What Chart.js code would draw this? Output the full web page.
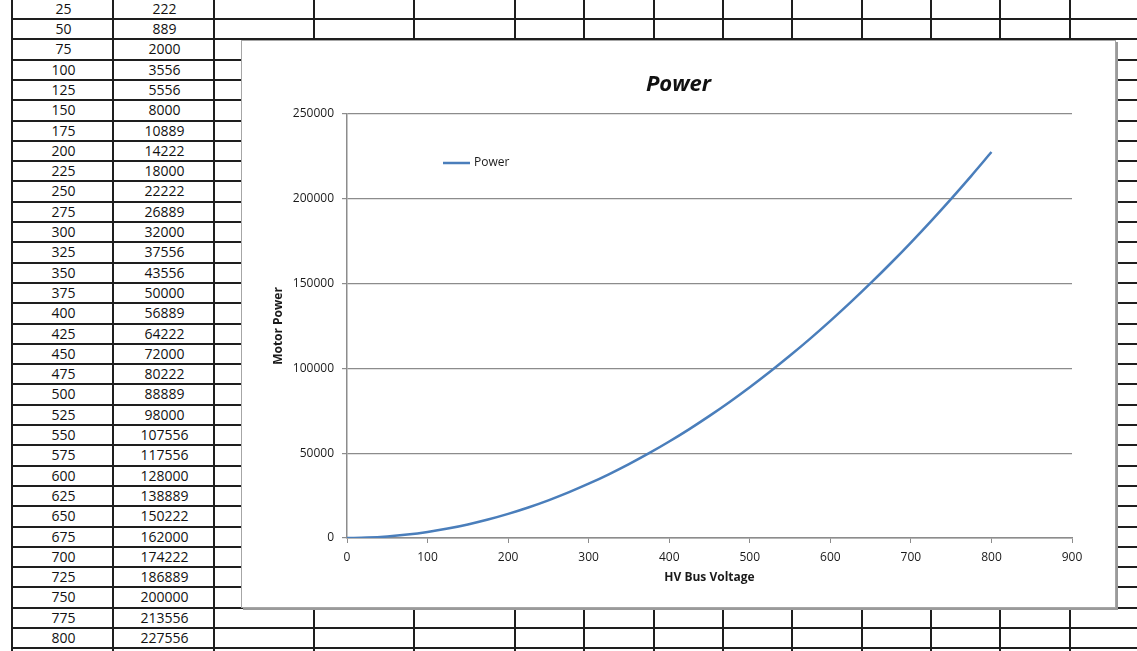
<!DOCTYPE html>
<html>
<head>
<meta charset="utf-8">
<title>Power</title>
<script src="https://cdn.jsdelivr.net/npm/chart.js@4.4.0/dist/chart.umd.min.js"></script>
<style>
  html, body { margin: 0; padding: 0; background: #fff; overflow: hidden; width: 1137px; height: 651px; }
  #sheet { position: absolute; left: 0; top: 0; width: 1137px; height: 651px; }
  .cell {
    position: absolute; box-sizing: border-box;
    border-top: 2px solid #1e1e1e; border-left: 2px solid #1e1e1e;
    font: 14px "Open Sans", sans-serif; color: #111; text-align: center; line-height: 18px;
  }
  #box {
    position: absolute; left: 241px; top: 40px; width: 873px; height: 566px;
    background: #fff; border: 1px solid #a6a6a6; box-shadow: 2px 2px 0 #9a9a9a;
  }
  #box canvas { display: block; }
</style>
</head>
<body>
<div id="sheet"></div>
<div id="box"><canvas id="powerChart" width="873" height="566"></canvas></div>

<script>
// HV bus voltage (column A) and motor power (column B)
const voltages = [0, 25, 50, 75, 100, 125, 150, 175, 200, 225, 250, 275, 300, 325, 350, 375, 400,
  425, 450, 475, 500, 525, 550, 575, 600, 625, 650, 675, 700, 725, 750, 775, 800];
const power = [0, 222, 889, 2000, 3556, 5556, 8000, 10889, 14222, 18000, 22222, 26889, 32000,
  37556, 43556, 50000, 56889, 64222, 72000, 80222, 88889, 98000, 107556, 117556, 128000,
  138889, 150222, 162000, 174222, 186889, 200000, 213556, 227556];

const xTicks = [0, 100, 200, 300, 400, 500, 600, 700, 800, 900];
const yTicks = [0, 50000, 100000, 150000, 200000, 250000];

// spreadsheet grid behind the chart
const colEdges = [11, 112, 213, 313, 413, 514, 583, 653, 722, 791, 861, 930, 999, 1069, 1140];
const rowTop = -22.6, rowH = 20.3;

function buildSheet() {
  const sheet = document.getElementById("sheet");
  for (let r = 0; r < voltages.length + 1; r++) {
    for (let c = 0; c < colEdges.length - 1; c++) {
      const d = document.createElement("div");
      d.className = "cell";
      d.style.left = colEdges[c] + "px";
      d.style.top = (rowTop + r * rowH) + "px";
      d.style.width = (colEdges[c + 1] - colEdges[c] + 2) + "px";
      d.style.height = (rowH + 2) + "px";
      if (r < voltages.length) {
        if (c === 0) d.textContent = voltages[r];
        if (c === 1) d.textContent = power[r];
      }
      sheet.appendChild(d);
    }
  }
}

const legendInPlot = {
  id: "legendInPlot",
  afterDatasetsDraw(chart) {
    const { ctx, chartArea } = chart;
    const ds = chart.data.datasets[0];
    const x = chartArea.left + 96, y = chartArea.top + 49;
    ctx.save();
    ctx.strokeStyle = ds.borderColor;
    ctx.lineWidth = 2.5;
    ctx.beginPath();
    ctx.moveTo(x, y);
    ctx.lineTo(x + 27, y);
    ctx.stroke();
    ctx.fillStyle = "#1a1a1a";
    ctx.font = '12px "Open Sans", sans-serif';
    ctx.textBaseline = "middle";
    ctx.fillText(ds.label, x + 31, y);
    ctx.restore();
  }
};

function drawChart() {
  Chart.defaults.font.family = '"Open Sans", sans-serif';
  Chart.defaults.color = "#1a1a1a";

  const ctx = document.getElementById("powerChart").getContext("2d");
  new Chart(ctx, {
    type: "line",
    data: {
      datasets: [{
        label: "Power",
        data: voltages.map((v, i) => ({ x: v, y: power[i] })),
        borderColor: "#4a7ebb",
        borderWidth: 2.5,
        pointRadius: 0,
        cubicInterpolationMode: "monotone",
        fill: false
      }]
    },
    options: {
      responsive: false,
      animation: false,
      layout: { padding: 0 },
      scales: {
        x: {
          type: "linear",
          min: 0, max: 900,
          afterBuildTicks: s => { s.ticks = xTicks.map(v => ({ value: v })); },
          afterFit: s => { s.height = 69; },
          grid: { drawOnChartArea: false, drawTicks: true, tickLength: 5, color: "#8c8c8c" },
          border: { color: "#8c8c8c", width: 1.5 },
          ticks: { padding: 7, font: { size: 12 }, callback: v => String(v) },
          title: {
            display: true, text: "HV Bus Voltage",
            font: { size: 12, weight: "bold" },
            padding: { top: 0, bottom: 22 }
          }
        },
        y: {
          min: 0, max: 250000,
          afterBuildTicks: s => { s.ticks = yTicks.map(v => ({ value: v })); },
          afterFit: s => { s.width = 105; },
          grid: { color: "#8c8c8c", lineWidth: 1.2, tickLength: 5 },
          border: { color: "#8c8c8c", width: 1.5 },
          ticks: { padding: 8, font: { size: 12 }, callback: v => String(v) },
          title: {
            display: true, text: "Motor Power",
            font: { size: 12, weight: "bold" },
            padding: { top: 29, bottom: 0 }
          }
        },
        // empty right-hand gutter so the title stays centred on the whole box
        gutter: {
          type: "linear",
          position: "right",
          grid: { display: false },
          border: { display: false },
          ticks: { display: false },
          afterFit: s => { s.width = 43; }
        }
      },
      plugins: {
        legend: { display: false },
        tooltip: { enabled: false },
        title: {
          display: true, text: "Power",
          color: "#111",
          font: { size: 22, weight: "bold", style: "italic", lineHeight: 1.2 },
          padding: { top: 31, bottom: 15.6 }
        }
      }
    },
    plugins: [legendInPlot]
  });
}

buildSheet();
drawChart();
</script>
</body>
</html>
